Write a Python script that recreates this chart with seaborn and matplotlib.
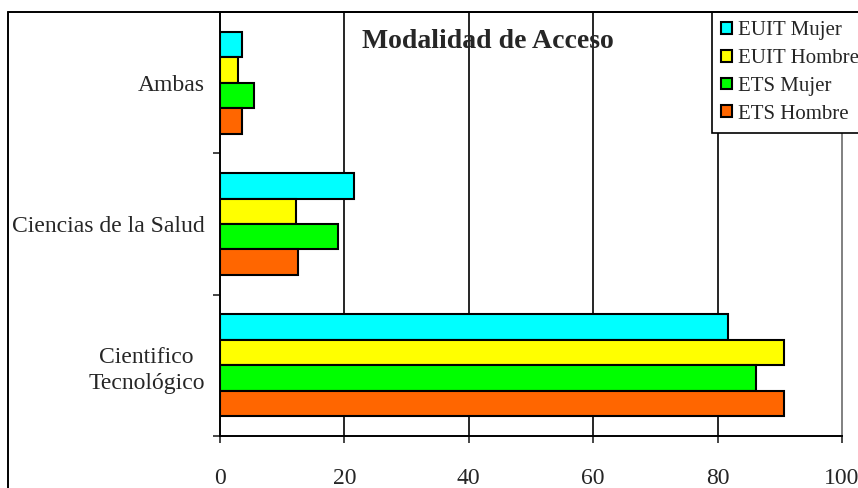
import matplotlib
matplotlib.use('Agg')
import matplotlib.pyplot as plt
import seaborn as sns
import pandas as pd
import numpy as np
from matplotlib.lines import Line2D

# Data
categories = ['Ambas', 'Ciencias de la Salud', 'Cientifico\nTecnológico']
series = ['EUIT Mujer', 'EUIT Hombre', 'ETS Mujer', 'ETS Hombre']
euit_mujer = [3.5, 21.5, 81.7]
euit_hombre = [2.9, 12.2, 90.7]
ets_mujer = [5.5, 19.0, 86.2]
ets_hombre = [3.5, 12.5, 90.7]
colors = ['#00FFFF', '#FFFF00', '#00FF00', '#FF6600']
x_ticks = [0, 20, 40, 60, 80, 100]

rows = []
for name, vals in zip(series, [euit_mujer, euit_hombre, ets_mujer, ets_hombre]):
    for cat, v in zip(categories, vals):
        rows.append({'Modalidad': cat, 'Serie': name, 'Valor': v})
df = pd.DataFrame(rows)

sns.set_style('white')
plt.rcParams['font.family'] = ['Liberation Serif', 'DejaVu Serif']

W, H = 858, 488
fig = plt.figure(figsize=(W / 100, H / 100), dpi=100)
ax = fig.add_axes([220 / W, (H - 436) / H, 622 / W, (436 - 12) / H])

sns.barplot(data=df, y='Modalidad', x='Valor', hue='Serie', order=categories,
            hue_order=series, palette=colors, saturation=1, width=0.72,
            edgecolor='black', linewidth=1.5, orient='h', ax=ax, zorder=3)

ax.set_xlim(0, 100)
ax.set_ylim(2.5, -0.5)
ax.set_xticks(x_ticks)
ax.set_xticklabels([str(t) for t in x_ticks], fontsize=17)
for t in x_ticks[1:-1]:
    ax.axvline(t, color='black', lw=1.2, zorder=1)

# category boundaries get the tick marks, labels sit at the centers
ax.set_yticks([-0.5, 0.5, 1.5, 2.5])
ax.set_yticklabels([])
ax.set_yticks(range(len(categories)), minor=True)
ax.set_yticklabels(categories, minor=True, fontsize=17)
for lab in ax.get_yticklabels(minor=True):
    lab.set_multialignment('center')
    lab.set_linespacing(1.35)
ax.tick_params(axis='y', which='minor', length=0, pad=11)
ax.tick_params(axis='y', which='major', length=5, width=1.2, direction='out', left=True)
ax.tick_params(axis='x', which='major', length=5, width=1.2, direction='out',
               bottom=True, pad=18)

ax.set_xlabel('')
ax.set_ylabel('')
for side in ['left', 'bottom', 'top']:
    ax.spines[side].set_color('black')
    ax.spines[side].set_linewidth(1.4)
ax.spines['right'].set_color('#808080')
ax.spines['right'].set_linewidth(1.4)

ax.text(0.43, 0.93, 'Modalidad de Acceso', transform=ax.transAxes, ha='center',
        va='center', fontsize=20, fontweight='bold')

leg = ax.legend(loc='upper left', bbox_to_anchor=(712 / W, 1 - 12 / H),
                bbox_transform=fig.transFigure, fontsize=15, frameon=True,
                fancybox=False, edgecolor='black', handlelength=0.5,
                handleheight=0.5, handletextpad=0.3, borderpad=0.45,
                labelspacing=0.42, borderaxespad=0)
leg.get_frame().set_linewidth(1.2)
leg.get_frame().set_alpha(1)

# outer chart frame (cut off at the right and bottom in the reference)
fig.add_artist(Line2D([8 / W, 8 / W], [0, 1 - 12 / H], color='black', lw=1.4))
fig.add_artist(Line2D([8 / W, 1], [1 - 12 / H, 1 - 12 / H], color='black', lw=1.4))

fig.savefig('out.png', dpi=100, facecolor='white')
